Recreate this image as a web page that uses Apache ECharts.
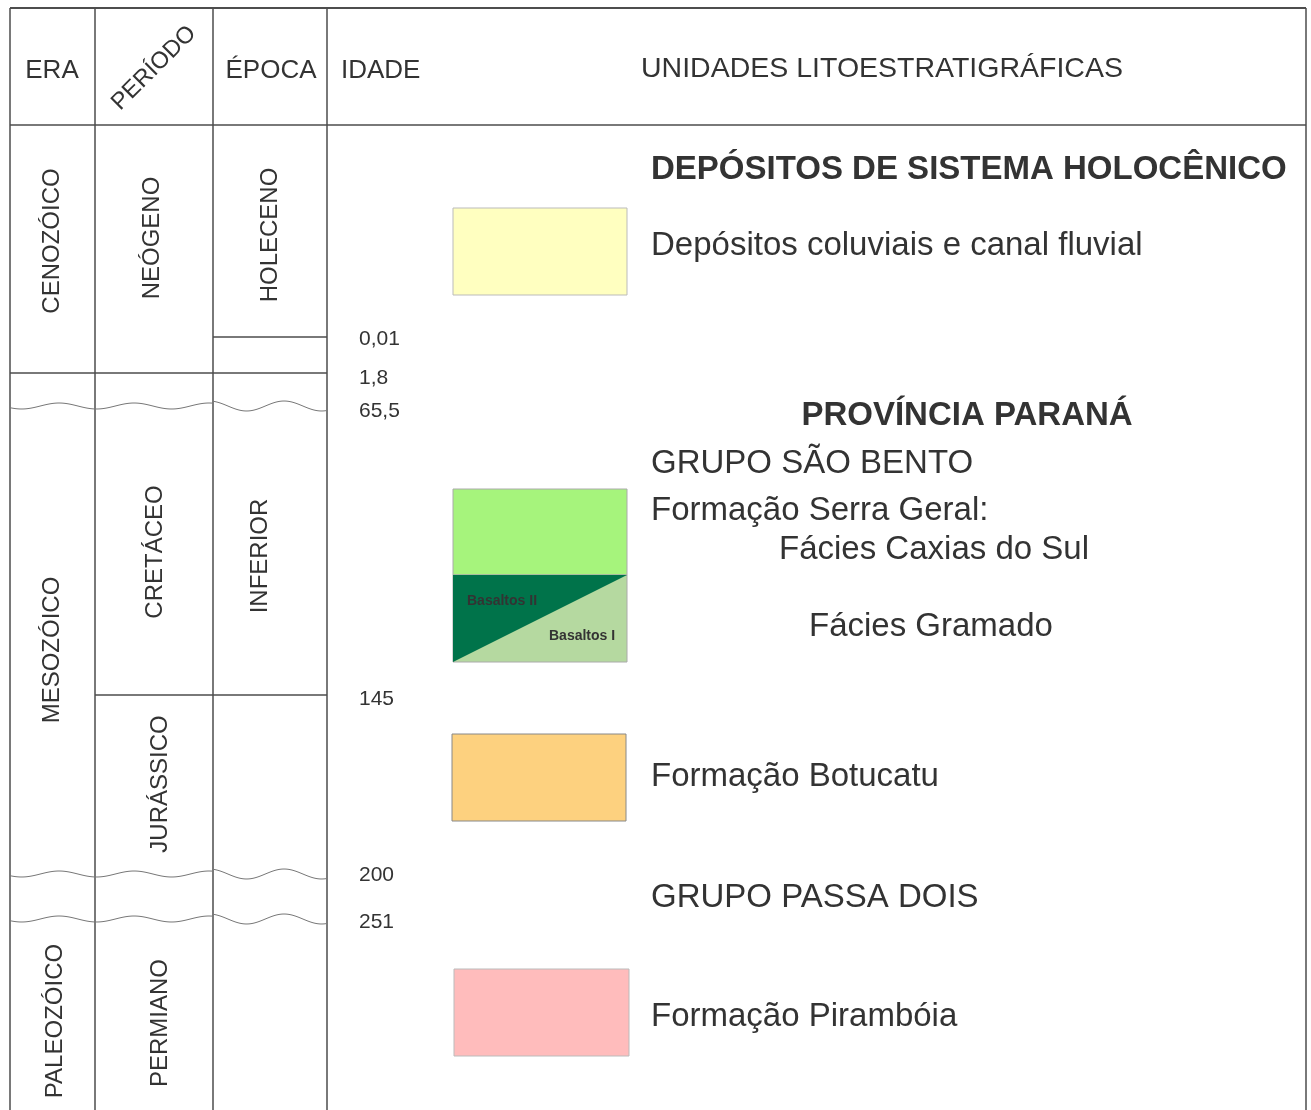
<!DOCTYPE html>
<html>
<head>
<meta charset="utf-8">
<script src="https://cdn.jsdelivr.net/npm/echarts@6/dist/echarts.min.js"></script>
<style>
html,body{margin:0;padding:0;background:#fff;}
#chart{width:1311px;height:1110px;}
</style>
</head>
<body>
<div id="chart"></div>
<script>
// ---------- DATA ----------
const headers = ['ERA', 'PERÍODO', 'ÉPOCA', 'IDADE', 'UNIDADES LITOESTRATIGRÁFICAS'];
const eras = ['CENOZÓICO', 'MESOZÓICO', 'PALEOZÓICO'];
const periods = ['NEÓGENO', 'CRETÁCEO', 'JURÁSSICO', 'PERMIANO'];
const epochs = ['HOLECENO', 'INFERIOR'];
const ages = ['0,01', '1,8', '65,5', '145', '200', '251'];
const unitTitles = ['DEPÓSITOS DE SISTEMA HOLOCÊNICO', 'PROVÍNCIA PARANÁ'];
const unitGroups = ['GRUPO SÃO BENTO', 'GRUPO PASSA DOIS'];
const unitNames = ['Depósitos coluviais e canal fluvial', 'Formação Serra Geral:', 'Fácies Caxias do Sul', 'Fácies Gramado', 'Formação Botucatu', 'Formação Pirambóia'];
const basaltNames = ['Basaltos II', 'Basaltos I'];

// ---------- LAYOUT (chart coordinate space, y downward) ----------
const W = 1311, H = 1110;
const colX = [10, 95, 213, 327, 1306];
const topY = 8, headY = 125;
const headerPos = [[52, 71, 'center', 26], [154, 68, 'center', 23.5], [271, 71, 'center', 26], [341, 71, 'left', 26], [882, 69, 'center', 28.5]];
const eraPos = [[52, 241], [52, 650], [55, 1021]];
const periodPos = [[152, 238], [155, 552], [160, 784], [160, 1023]];
const epochPos = [[270, 235], [260, 556]];
const agePos = [339, 378, 411, 699, 875, 922];
const straightLines = [[213, 327, 337], [10, 327, 373], [95, 327, 695]];
const waveLines = [406, 874, 919];
const boxes = [
  { x0: 453, x1: 627, y0: 208, y1: 295, color: '#ffffc0', border: '#bbbbbb' },
  { x0: 453, x1: 627, y0: 489, y1: 575, color: '#a6f47c', border: '#aaaaaa' },
  { x0: 452, x1: 626, y0: 734, y1: 821, color: '#fdd17f', border: '#888888' },
  { x0: 454, x1: 629, y0: 969, y1: 1056, color: '#ffbcbc', border: '#bbbbbb' }
];
const basaltBox = { x0: 453, x1: 627, y0: 575, y1: 662 };
const unitLines = [
  [651, 170, 'title', 0], [967, 416, 'title', 1],
  [651, 246, 'name', 0], [651, 464, 'group', 0], [651, 511, 'name', 1],
  [779, 550, 'name', 2], [809, 627, 'name', 3], [651, 777, 'name', 4],
  [651, 898, 'group', 1], [651, 1017, 'name', 5]
];

const TXT = '#333333';
const LINE = '#4d4d4d';
const FONT = '"Liberation Sans", Arial, sans-serif';

const chart = echarts.init(document.getElementById('chart'), null, { renderer: 'canvas' });

function pt(api, x, y) { return api.coord([x, y]); }

function textEl(api, x, y, text, opt) {
  const p = pt(api, x, y);
  return {
    type: 'text',
    x: p[0], y: p[1],
    rotation: opt.rotation || 0,
    style: {
      x: 0, y: 0,
      text: text,
      fill: opt.fill || TXT,
      font: (opt.weight || 'normal') + ' ' + opt.size + 'px ' + FONT,
      textAlign: opt.align || 'left',
      textVerticalAlign: 'middle'
    }
  };
}

function wave(api, y) {
  const pts = [];
  for (let x = colX[0]; x <= colX[3]; x += 2) {
    const amp = x > colX[2] ? 5 : 3;
    const dy = amp * Math.sin((x - colX[0]) / 75 * 2 * Math.PI + 0.6);
    pts.push(pt(api, x, y + dy));
  }
  return { type: 'polyline', shape: { points: pts }, style: { stroke: '#777', lineWidth: 1, fill: null } };
}

function renderFrame(params, api) {
  const ch = [];
  const L = (x0, y0, x1, y1, w, c) => {
    const a = pt(api, x0, y0), b = pt(api, x1, y1);
    ch.push({ type: 'line', shape: { x1: a[0], y1: a[1], x2: b[0], y2: b[1] }, style: { stroke: c || LINE, lineWidth: w || 1.5 } });
  };
  L(colX[0], topY, colX[4], topY, 2);
  L(colX[0], headY, colX[4], headY, 1.5);
  colX.forEach(x => L(x, topY, x, H, 1.5));
  straightLines.forEach(s => L(s[0], s[2], s[1], s[2], 1.5));
  waveLines.forEach(y => ch.push(wave(api, y)));
  return { type: 'group', children: ch };
}

function renderBoxes(params, api) {
  const ch = [];
  boxes.forEach(b => {
    const a = pt(api, b.x0, b.y0), c = pt(api, b.x1, b.y1);
    ch.push({ type: 'rect', shape: { x: a[0], y: a[1], width: c[0] - a[0], height: c[1] - a[1] },
      style: { fill: b.color, stroke: b.border, lineWidth: 1 } });
  });
  const b = basaltBox;
  const tl = pt(api, b.x0, b.y0), tr = pt(api, b.x1, b.y0), bl = pt(api, b.x0, b.y1), br = pt(api, b.x1, b.y1);
  ch.push({ type: 'polygon', shape: { points: [tl, tr, br, bl] }, style: { fill: '#b5d9a0', stroke: '#aaaaaa', lineWidth: 1 } });
  ch.push({ type: 'polygon', shape: { points: [tl, tr, bl] }, style: { fill: '#00734a' } });
  ch.push(textEl(api, 467, 601, basaltNames[0], { size: 14, weight: 'bold', fill: '#333' }));
  ch.push(textEl(api, 549, 636, basaltNames[1], { size: 14, weight: 'bold', fill: '#333' }));
  return { type: 'group', children: ch };
}

function renderText(params, api) {
  const ch = [];
  headers.forEach((h, i) => {
    const p = headerPos[i];
    ch.push(textEl(api, p[0], p[1], h, { size: p[3], align: p[2], rotation: i === 1 ? Math.PI / 4 : 0 }));
  });
  eras.forEach((t, i) => ch.push(textEl(api, eraPos[i][0], eraPos[i][1], t, { size: 24, align: 'center', rotation: Math.PI / 2 })));
  periods.forEach((t, i) => ch.push(textEl(api, periodPos[i][0], periodPos[i][1], t, { size: 24, align: 'center', rotation: Math.PI / 2 })));
  epochs.forEach((t, i) => ch.push(textEl(api, epochPos[i][0], epochPos[i][1], t, { size: 24, align: 'center', rotation: Math.PI / 2 })));
  ages.forEach((t, i) => ch.push(textEl(api, 359, agePos[i], t, { size: 21 })));
  unitLines.forEach(u => {
    const src = u[2] === 'title' ? unitTitles : (u[2] === 'group' ? unitGroups : unitNames);
    ch.push(textEl(api, u[0], u[1], src[u[3]], {
      size: 33,
      weight: u[2] === 'title' ? 'bold' : 'normal',
      align: (u[2] === 'title' && u[3] === 1) ? 'center' : 'left'
    }));
  });
  return { type: 'group', children: ch };
}

chart.setOption({
  animation: false,
  backgroundColor: '#ffffff',
  grid: { left: 0, right: 0, top: 0, bottom: 0 },
  xAxis: { type: 'value', min: 0, max: W, show: false },
  yAxis: { type: 'value', min: 0, max: H, inverse: true, show: false },
  series: [
    { type: 'custom', renderItem: renderBoxes, data: [[0, 0]], silent: true, clip: false, z: 1 },
    { type: 'custom', renderItem: renderFrame, data: [[0, 0]], silent: true, clip: false, z: 2 },
    { type: 'custom', renderItem: renderText, data: [[0, 0]], silent: true, clip: false, z: 3 }
  ]
});
</script>
</body>
</html>
